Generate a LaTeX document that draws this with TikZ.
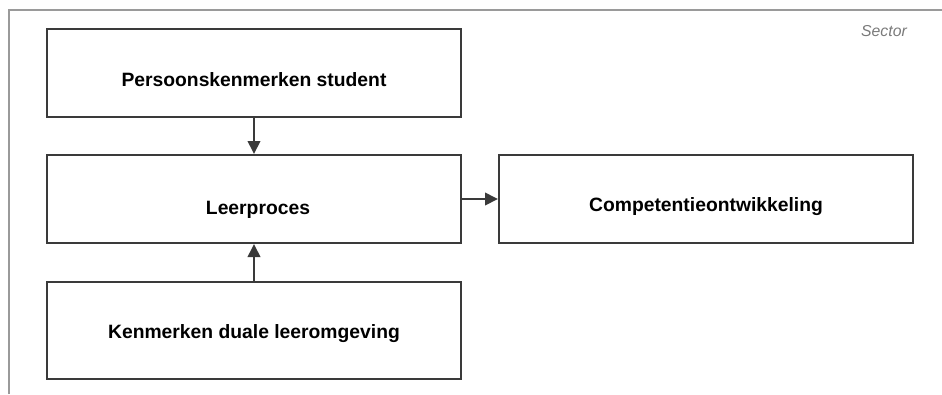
\documentclass[tikz,border=0pt]{standalone}
\usepackage{fontspec}
\setmainfont{Liberation Sans}
\usetikzlibrary{arrows.meta}
\definecolor{framegray}{HTML}{9A9A9A}
\definecolor{boxline}{HTML}{3A3A3A}
\definecolor{sectorgray}{HTML}{7A7A7A}
\tikzset{
  box/.style={draw=boxline, line width=2pt, rectangle, inner sep=0pt,
    minimum width=414pt, minimum height=88pt},
  lbl/.style={font=\fontsize{19.3}{23}\selectfont\bfseries, text=black, inner sep=0pt},
  flow/.style={draw=boxline, line width=2pt,
    -{Triangle[length=13pt 0 0,width=12.5pt 0 0]}}
}
\begin{document}
\begin{tikzpicture}[x=1pt,y=-1pt]
  \useasboundingbox (0,0) rectangle (942,394);
  % sector frame
  \draw[framegray, line width=2pt] (9,394) -- (9,10) -- (942,10);
  \node[font=\fontsize{15.8}{18}\selectfont\itshape, text=sectorgray,
    anchor=base east, inner sep=0pt] (sector) at (907,36) {Sector};
  % boxes
  \node[box] (pers) at (254,73) {};
  \node[box] (leer) at (254,199) {};
  \node[box, minimum height=97pt] (duaal) at (254,330) {};
  \node[box] (comp) at (706,199) {};
  % labels
  \node[lbl, anchor=base] (perst) at (254,86) {Persoonskenmerken student};
  \node[lbl, anchor=base] (leert) at (258,214) {Leerproces};
  \node[lbl, anchor=base] (duaalt) at (254,338) {Kenmerken duale leeromgeving};
  \node[lbl, anchor=base] (compt) at (706,211) {Competentieontwikkeling};
  % connectors
  \draw[flow] (pers.south) -- (leer.north);
  \draw[flow] (duaal.north) -- (leer.south);
  \draw[flow] (leer.east) -- (comp.west);
\end{tikzpicture}
\end{document}
